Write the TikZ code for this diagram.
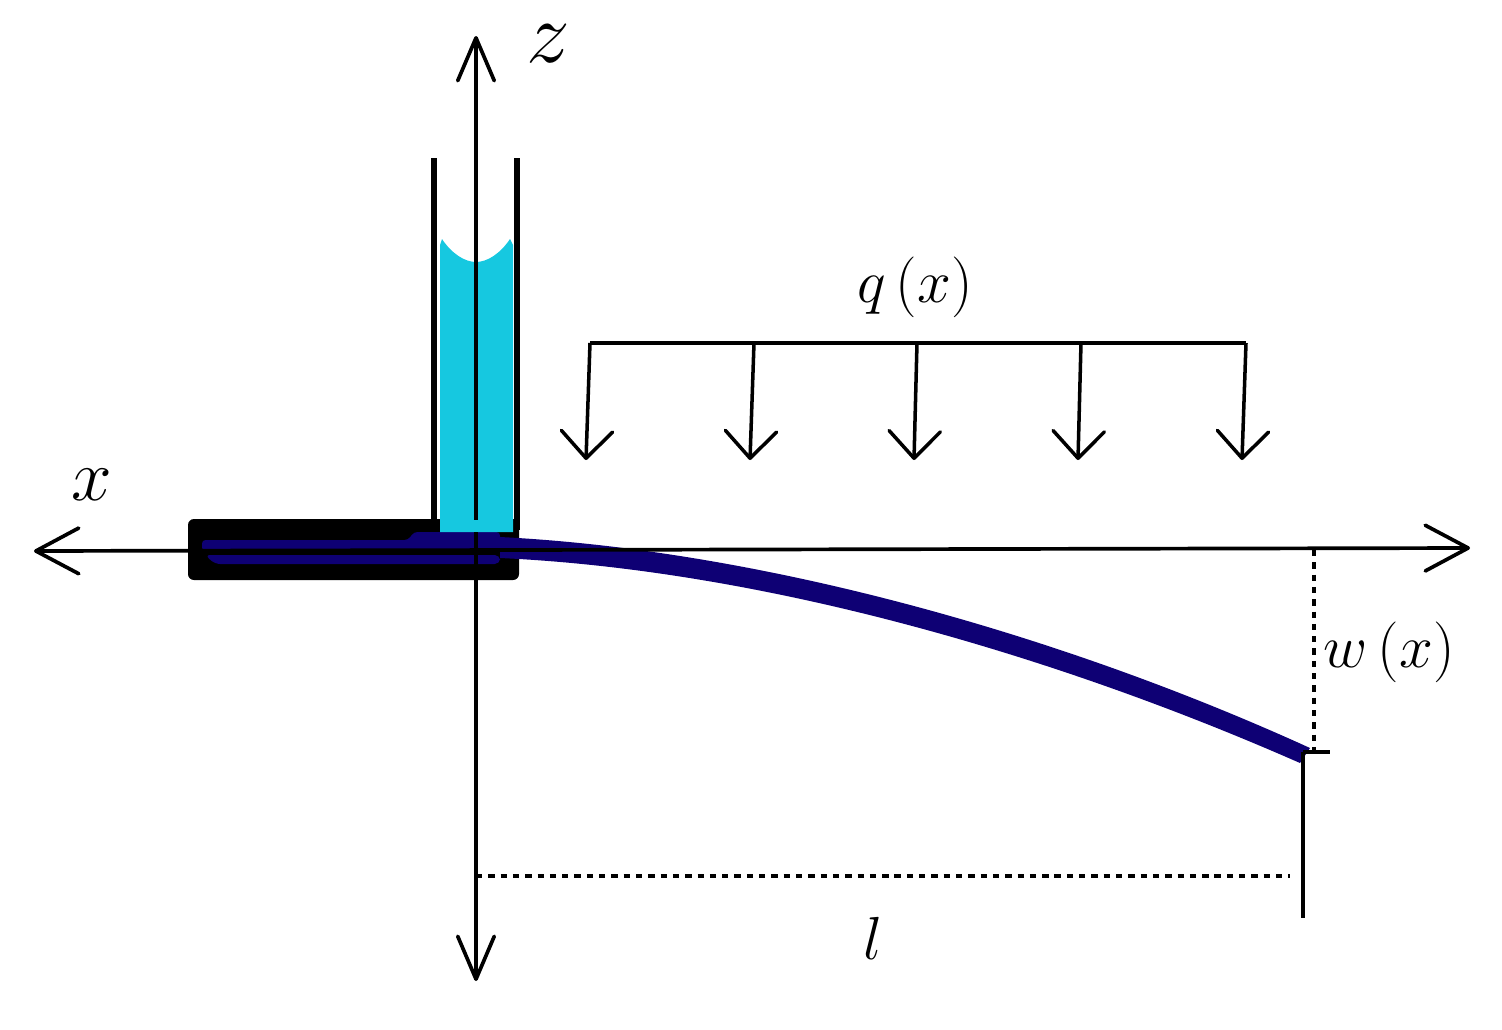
\documentclass[tikz,border=0pt]{standalone}
\usepackage{amsmath}
\usepackage{tikz}
\usetikzlibrary{arrows.meta}
\definecolor{dfwater}{RGB}{22,200,224}
\definecolor{dfbeam}{RGB}{14,0,116}
\tikzstyle{xaxis} = [line width=1.05pt,black,{Straight Barb[length=12.2pt,width=13pt,line width=1.05pt,round]}-{Straight Barb[length=12.2pt,width=13pt,line width=1.05pt,round]}]
\tikzstyle{zaxis} = [line width=1.05pt,black,{Straight Barb[length=12.2pt,width=10.4pt,line width=1.05pt,round]}-{Straight Barb[length=12.2pt,width=10.4pt,line width=1.05pt,round]}]
\tikzstyle{load} = [line width=1pt,black,-{Straight Barb[length=7.7pt,width=14.6pt,line width=1pt,round]}]
\tikzstyle{thin line} = [line width=1pt,black]
\tikzstyle{wall} = [line width=1.5pt,black]
\tikzstyle{dimline} = [line width=0.9pt,black,dash pattern=on 1.8pt off 1.7pt]
\tikzstyle{label} = [inner sep=0pt,font=\fontsize{17.5}{21}\selectfont]

\begin{document}
\begin{tikzpicture}[x=0.01cm,y=-0.01cm]
\useasboundingbox (0,0) rectangle (1502,1030);

% Clamp and beam
\fill[black, rounded corners=1.7pt] (188,519) rectangle (519,580);
\fill[dfbeam, rounded corners=1pt] (202,540) -- (408,540) -- (414,532) -- (500,532) -- (500,551) -- (202,551) -- cycle;
\fill[dfbeam, rounded corners=1.5pt] (205,555) -- (500,555) -- (500,564) -- (215,564) -- cycle;
\fill[dfbeam] (500,537) .. controls (760,550) and (1060,634) .. (1310,748)
  -- (1300,763) .. controls (1050,653) and (760,570) .. (500,558) -- cycle;

% Water column
\fill[dfwater] (442,239) .. controls (452,254) and (465,262) .. (476,262)
  .. controls (487,262) and (500,254) .. (510,239) -- (513,245) -- (513,532) -- (440,532) -- (440,245) -- cycle;

% Tube walls
\coordinate (wallL top) at (434,158);
\coordinate (wallL end) at (434,522);
\coordinate (wallR top) at (517,158);
\coordinate (wallR end) at (517,530);
\draw[wall] (wallL top) -- (wallL end);
\draw[wall] (wallR top) -- (wallR end);

% Axes
\coordinate (xleft) at (34,551);
\coordinate (xright) at (1470,548);
\coordinate (ztop) at (476,36);
\coordinate (zbot) at (476,981);
\draw[xaxis] (xleft) -- (xright);
\draw[zaxis] (zbot) -- (ztop);
\fill[dfwater] (472,520) rectangle (480,532);

% Distributed load
\coordinate (q1) at (590,343);
\coordinate (q2) at (754,343);
\coordinate (q3) at (917,343);
\coordinate (q4) at (1081,343);
\coordinate (q5) at (1246,343);
\coordinate (a1) at (586,460);
\coordinate (a2) at (750,460);
\coordinate (a3) at (914,460);
\coordinate (a4) at (1078,460);
\coordinate (a5) at (1242,460);
\draw[thin line] (q1) -- (q5);
\draw[load] (q1) -- (a1);
\draw[load] (q2) -- (a2);
\draw[load] (q3) -- (a3);
\draw[load] (q4) -- (a4);
\draw[load] (q5) -- (a5);

% Dimensions
\coordinate (w top) at (1314,550);
\coordinate (w bot) at (1314,752);
\coordinate (tick l) at (1303,752);
\coordinate (tick r) at (1330,752);
\coordinate (l top) at (1303,752);
\coordinate (l bot) at (1303,918);
\coordinate (dim l) at (476,876);
\coordinate (dim r) at (1290,876);
\draw[dimline] (w top) -- (w bot);
\draw[thin line] (tick l) -- (tick r);
\draw[thin line] (l top) -- (l bot);
\draw[dimline] (dim l) -- (dim r);

% Labels
\node (zlabel) [label, font=\fontsize{27}{30}\selectfont] at (548,44) {$z$};
\node (xlabel) [label, font=\fontsize{22}{24}\selectfont] at (92,485) {$x$};
\node (qlabel) [label] at (915,287) {$q\,(x)$};
\node (wlabel) [label] at (1389,652) {$w\,(x)$};
\node (llabel) [label] at (873,938) {$l$};
\end{tikzpicture}
\end{document}
